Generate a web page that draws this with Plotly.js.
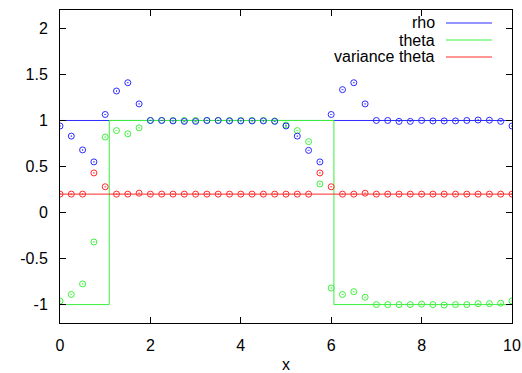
<!DOCTYPE html>
<html><head><meta charset="utf-8">
<script src="https://cdn.plot.ly/plotly-3.0.1.min.js"></script>
<style>body{margin:0;padding:0;background:#fff}#chart{width:522px;height:373px}</style>
</head><body><div id="chart"></div>
<script>
// sample positions
const xs = [0,0.25,0.5,0.75,1,1.25,1.5,1.75,2,2.25,2.5,2.75,3,3.25,3.5,3.75,4,4.25,4.5,4.75,5,5.25,5.5,5.75,6,6.25,6.5,6.75,7,7.25,7.5,7.75,8,8.25,8.5,8.75,9,9.25,9.5,9.75,10];
// numerical solution points
const rhoPts = [0.94,0.83,0.68,0.55,1.065,1.32,1.41,1.18,1.0,1.0,0.995,0.99,0.99,1.0,1.0,0.995,0.995,0.995,0.995,0.99,0.94,0.83,0.675,0.55,1.065,1.335,1.41,1.18,1.0,1.0,0.99,0.99,1.0,0.995,0.995,0.995,1.0,1.005,1.003,0.99,0.94];
const thetaPts = [-0.96,-0.89,-0.775,-0.32,0.82,0.89,0.855,0.92,1.0,1.0,1.0,1.0,1.0,1.0,1.0,1.0,1.0,1.0,1.0,0.995,0.95,0.89,0.77,0.31,-0.82,-0.89,-0.86,-0.92,-1.0,-1.0,-1.0,-1.0,-0.995,-1.0,-1.005,-1.0,-1.0,-0.99,-0.99,-0.985,-0.96];
const varPts = [0.2,0.2,0.2,0.43,0.28,0.2,0.2,0.21,0.2,0.2,0.2,0.2,0.2,0.2,0.2,0.2,0.2,0.2,0.2,0.2,0.2,0.2,0.2,0.43,0.28,0.2,0.2,0.21,0.2,0.2,0.2,0.2,0.2,0.2,0.2,0.2,0.2,0.2,0.2,0.2,0.2];
// exact solution lines
const rhoLineX = [0,10], rhoLineY = [1,1];
const thetaLineX = [0,1.09,1.09,6.06,6.06,10], thetaLineY = [-1,-1,1,1,-1,-1];
const varLineX = [0,10], varLineY = [0.2,0.2];
const names = ['rho','theta','variance theta'];
const colors = ['#2a2aff','#3cf03c','#ff2a2a'];
const ticksX = [0,2,4,6,8,10];
const ticksY = [-1,-0.5,0,0.5,1,1.5,2];
const tickTextY = ['-1','-0.5','0','0.5','1','1.5','2'];

const mk = (c)=>({symbol:'circle-open-dot', size:6, color:c, line:{width:1, color:c}});
const data = [
  {x:rhoLineX, y:rhoLineY, mode:'lines', line:{color:colors[0], width:1}, showlegend:false},
  {x:thetaLineX, y:thetaLineY, mode:'lines', line:{color:colors[1], width:1}, showlegend:false},
  {x:varLineX, y:varLineY, mode:'lines', line:{color:colors[2], width:1}, showlegend:false},
  {x:xs, y:varPts, mode:'markers', marker:mk(colors[2]), showlegend:false},
  {x:xs, y:thetaPts, mode:'markers', marker:mk(colors[1]), showlegend:false},
  {x:xs, y:rhoPts, mode:'markers', marker:mk(colors[0]), showlegend:false}
];
const font = {family:'Liberation Sans, Arial, sans-serif', size:16, color:'#000'};
const annotations = [], shapes = [];
const legY = [23, 40, 57];
names.forEach((n,i)=>{
  annotations.push({xref:'paper', yref:'paper', x:(437-60)/452, y:(323-legY[i])/313, xanchor:'right', yanchor:'middle', text:n, showarrow:false, font:font});
  shapes.push({type:'line', xref:'paper', yref:'paper', x0:(446-60)/452, x1:(492-60)/452, y0:(323-legY[i])/313, y1:(323-legY[i])/313, line:{color:colors[i], width:1}});
});
const layout = {
  width:522, height:373,
  margin:{l:60, r:10, t:10, b:50},
  paper_bgcolor:'#fff', plot_bgcolor:'#fff',
  font:font,
  showlegend:false,
  xaxis:{range:[0,10], tickvals:ticksX, ticktext:ticksX.map(String), ticks:'inside', ticklen:6, tickcolor:'#000', showline:true, linecolor:'#000', linewidth:1, mirror:'ticks', showgrid:false, zeroline:false, ticklabelstandoff:8, title:{text:'x', font:font, standoff:8}},
  yaxis:{range:[-1.2,2.2], tickvals:ticksY, ticktext:tickTextY, ticks:'inside', ticklen:6, tickcolor:'#000', showline:true, linecolor:'#000', linewidth:1, mirror:'ticks', showgrid:false, zeroline:false, ticklabelstandoff:8},
  annotations:annotations, shapes:shapes
};
Plotly.newPlot('chart', data, layout, {staticPlot:true, displayModeBar:false});
</script></body></html>
